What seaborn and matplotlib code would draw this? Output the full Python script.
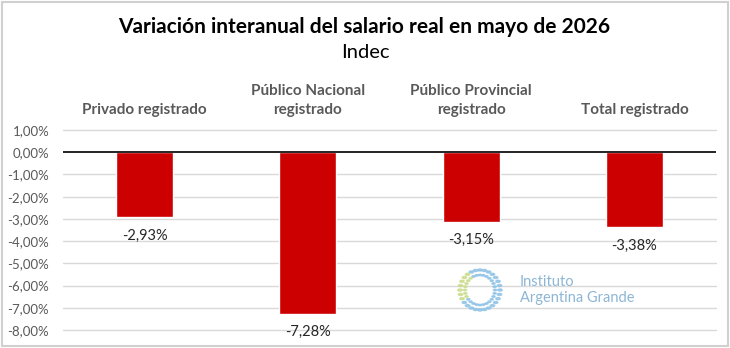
import numpy as np
import pandas as pd
import matplotlib
matplotlib.use("Agg")
import matplotlib.pyplot as plt
import seaborn as sns
from matplotlib.patches import Rectangle, Circle
from matplotlib.transforms import blended_transform_factory

categories = ["Privado registrado", "Público Nacional\nregistrado",
              "Público Provincial\nregistrado", "Total registrado"]
values = [-2.93, -7.28, -3.15, -3.38]
value_labels = ["-2,93%", "-7,28%", "-3,15%", "-3,38%"]
yticks = [1, 0, -1, -2, -3, -4, -5, -6, -7, -8]
ytick_labels = ["1,00%", "0,00%", "-1,00%", "-2,00%", "-3,00%", "-4,00%",
                "-5,00%", "-6,00%", "-7,00%", "-8,00%"]
title = "Variación interanual del salario real en mayo de 2026"
subtitle = "Indec"

sns.set_style("white")
plt.rcParams['font.family'] = ['Lato', 'DejaVu Sans']

W, H = 730, 348
fig = plt.figure(figsize=(W / 100, H / 100), dpi=100)
ax = fig.add_axes([63 / W, (H - 330) / H, (716 - 63) / W, 200 / H])

df = pd.DataFrame({"cat": categories, "val": values})
sns.barplot(data=df, x="cat", y="val", color="#cc0000", width=0.35,
            saturation=1, ax=ax, zorder=3)

ax.set_ylim(-8, 1)
ax.set_xlim(-0.5, 3.5)
ax.set_yticks(yticks)
ax.set_yticklabels(ytick_labels, color="#595959", fontsize=9.5)
ax.tick_params(axis="y", length=0, pad=10)
ax.set_xticks([])
ax.set_xlabel("")
ax.set_ylabel("")
for s in ax.spines.values():
    s.set_visible(False)
for t in yticks:
    if t != 0:
        ax.axhline(t, color="#d9d9d9", lw=1, zorder=1, clip_on=False)
ax.axhline(0, color="black", lw=1.2, zorder=4)

for i, (v, lab) in enumerate(zip(values, value_labels)):
    ax.annotate(lab, (i, v), xytext=(0, -8), textcoords="offset points",
                ha="center", va="top", fontsize=10.5, color="#262626", zorder=5)

trans = blended_transform_factory(ax.transData, fig.transFigure)
for i, c in enumerate(categories):
    ax.text(i, (H - 117) / H, c, transform=trans, ha="center", va="bottom",
            fontsize=11, color="#595959", fontweight="bold",
            linespacing=1.45)

fig.text(364 / W, (H - 27) / H, title, ha="center", va="center",
         fontsize=15, fontweight="bold", color="black")
fig.text(365 / W, (H - 52) / H, subtitle, ha="center", va="center",
         fontsize=14.5, color="black")

# watermark
r = 20
ang = np.linspace(0, 2 * np.pi, 28, endpoint=False)
cols = ["#c9dd8a" if (a > 2.2 and a < 3.8) else "#8fc3e6" for a in ang]
for a, col in zip(ang, cols):
    for rr, ms in ((r, 2.2), (r - 5, 1.6)):
        fig.patches.append(Circle(
            ((480 + rr * np.cos(a)) / W, (H - 290 + rr * np.sin(a)) / H),
            radius=ms / W, transform=fig.transFigure, color=col,
            alpha=0.8, figure=fig))
fig.text(520 / W, (H - 289) / H, "Instituto", fontsize=10.5,
         color="#8db6d6", va="bottom", ha="left")
fig.text(520 / W, (H - 291) / H, "Argentina Grande", fontsize=10.5,
         color="#8db6d6", va="top", ha="left")

fig.patches.append(Rectangle((2 / W, 2 / H), (W - 4) / W, (H - 4) / H,
                             transform=fig.transFigure, fill=False,
                             edgecolor="#d0d0d0", lw=1.5, figure=fig))

fig.savefig("out.png", dpi=100, facecolor="white")
